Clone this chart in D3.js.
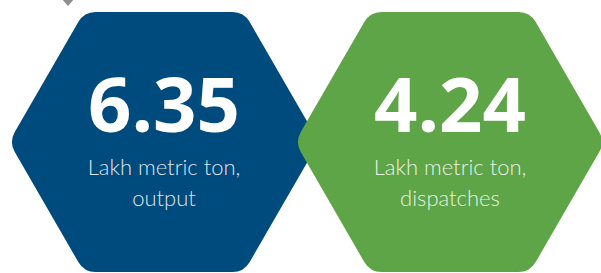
<!DOCTYPE html>
<html>
<head>
<meta charset="utf-8">
<script src="https://cdn.jsdelivr.net/npm/d3@7"></script>
<style>
  html, body { margin: 0; padding: 0; background: #ffffff; }
  svg { display: block; }
</style>
</head>
<body>
<svg id="chart" width="601" height="273"></svg>
<script>
// ---- data ----
const categories = ["output", "dispatches"];
const values = ["6.35", "4.24"];
const unitLabels = ["Lakh metric ton,", "Lakh metric ton,"];
const metricLabels = ["output", "dispatches"];
const fillColors = ["#004b7e", "#5ea548"];

// ---- layout ----
const W = 601, H = 273;
const svg = d3.select("#chart");

const x = d3.scalePoint().domain(categories).range([164, 450]);
const cy = 142, halfH = 130, halfW = 155, diag = halfH / Math.tan(Math.PI / 3), radius = 20;

function hexPath(cx) {
  const pts = [
    [cx - halfW, cy],
    [cx - halfW + diag, cy - halfH],
    [cx + halfW - diag, cy - halfH],
    [cx + halfW, cy],
    [cx + halfW - diag, cy + halfH],
    [cx - halfW + diag, cy + halfH]
  ];
  const p = d3.path();
  const n = pts.length;
  const m0 = [(pts[n - 1][0] + pts[0][0]) / 2, (pts[n - 1][1] + pts[0][1]) / 2];
  p.moveTo(m0[0], m0[1]);
  for (let i = 0; i < n; i++) {
    const a = pts[i], b = pts[(i + 1) % n];
    p.arcTo(a[0], a[1], (a[0] + b[0]) / 2, (a[1] + b[1]) / 2, radius);
  }
  p.closePath();
  return p.toString();
}

// small grey marker at top
svg.append("path")
  .attr("d", "M61,-2 L75,-2 L68,6 Z")
  .attr("fill", "#8c8e90");

const g = svg.selectAll("g.hex")
  .data(categories)
  .join("g")
  .attr("class", "hex");

g.append("path")
  .attr("d", d => hexPath(x(d)))
  .attr("fill", (d, i) => fillColors[i]);

g.append("text")
  .attr("x", d => x(d))
  .attr("y", 132)
  .attr("text-anchor", "middle")
  .attr("font-family", "'Open Sans', sans-serif")
  .attr("font-weight", 700)
  .attr("font-size", 76)
  .attr("fill", "#ffffff")
  .text((d, i) => values[i]);

g.append("text")
  .attr("x", d => x(d))
  .attr("y", 175)
  .attr("text-anchor", "middle")
  .attr("font-family", "Lato, 'Open Sans', sans-serif")
  .attr("font-weight", 300)
  .attr("font-size", 22)
  .attr("fill", "#ffffff")
  .attr("fill-opacity", 0.88)
  .text((d, i) => unitLabels[i]);

g.append("text")
  .attr("x", d => x(d))
  .attr("y", 206)
  .attr("text-anchor", "middle")
  .attr("font-family", "Lato, 'Open Sans', sans-serif")
  .attr("font-weight", 300)
  .attr("font-size", 22)
  .attr("fill", "#ffffff")
  .attr("fill-opacity", 0.88)
  .text((d, i) => metricLabels[i]);
</script>
</body>
</html>
